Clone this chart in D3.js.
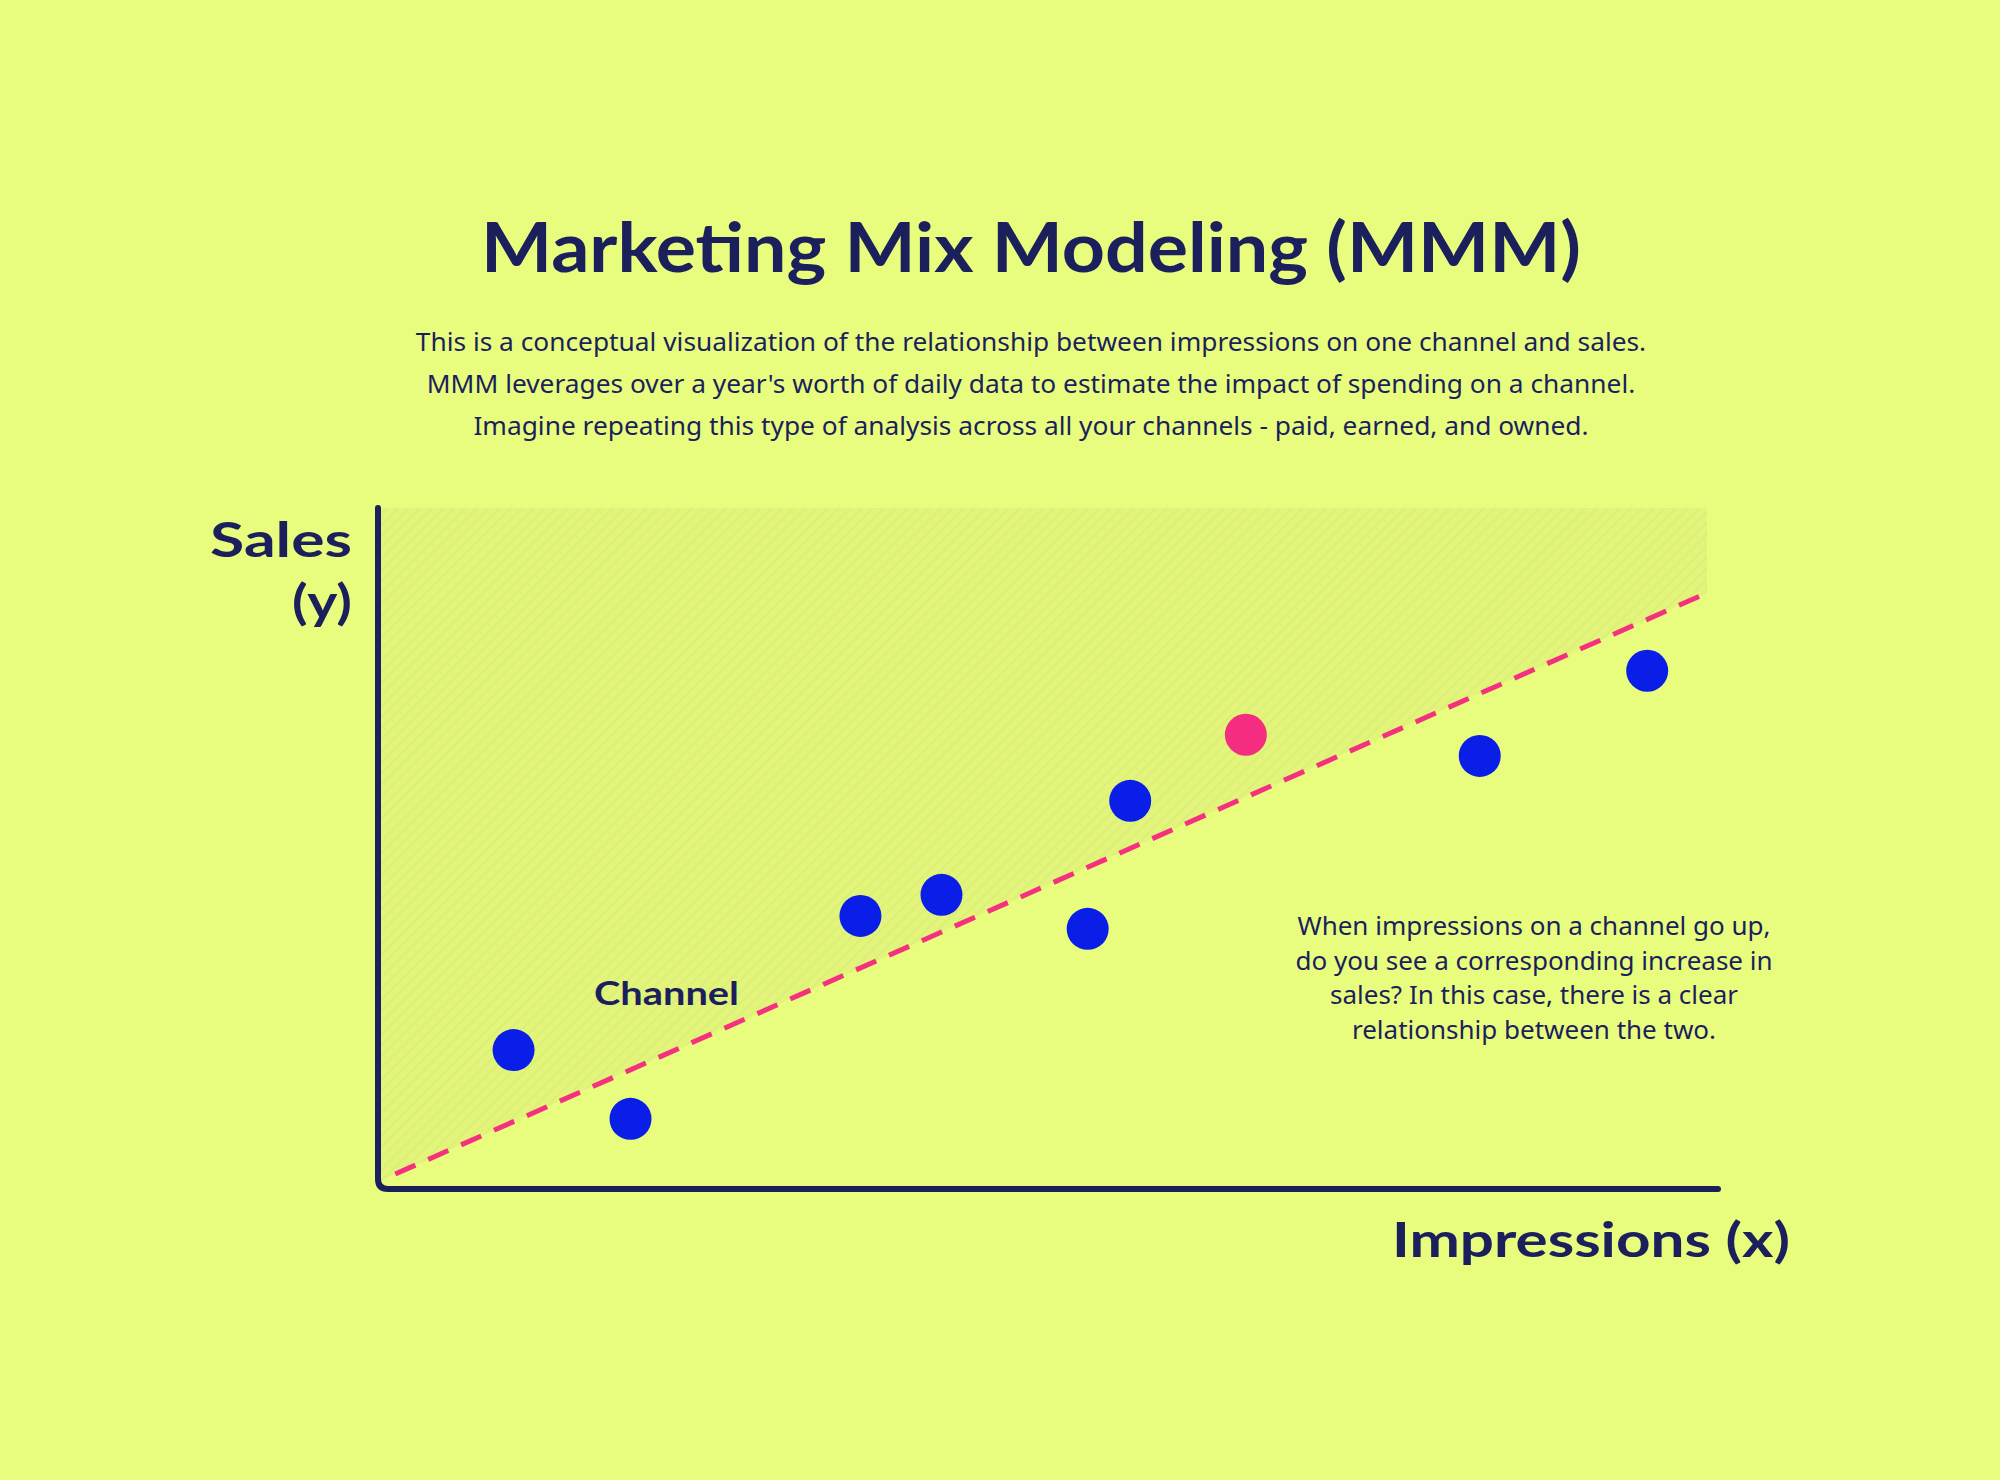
<!DOCTYPE html>
<html><head><meta charset="utf-8">
<script src="https://cdn.jsdelivr.net/npm/d3@7"></script>
<style>body{margin:0;background:#e8fc7e}</style>
</head><body>
<script>
// data
const impressions = [10.2, 19.0, 36.3, 42.4, 53.4, 56.6, 65.3, 82.9, 95.5];
const sales       = [20.4, 10.3, 40.1, 43.2, 38.2, 57.0, 66.7, 63.6, 76.1];
const highlighted = [false, false, false, false, false, false, true, false, false];
const trendX = [1.3, 99.5];
const trendY = [2.2, 87.1];
const subtitle = [
  "This is a conceptual visualization of the relationship between impressions on one channel and sales.",
  "MMM leverages over a year's worth of daily data to estimate the impact of spending on a channel.",
  "Imagine repeating this type of analysis across all your channels - paid, earned, and owned."
];
const note = [
  "When impressions on a channel go up,",
  "do you see a corresponding increase in",
  "sales? In this case, there is a clear",
  "relationship between the two."
];

const navy = "#1b1f5c", bg = "#e8fc7e";
const W = 2000, H = 1480;
const svg = d3.select("body").append("svg").attr("width", W).attr("height", H);
svg.append("rect").attr("width", W).attr("height", H).attr("fill", bg);

const x = d3.scaleLinear().domain([0, 100]).range([378, 1707]);
const y = d3.scaleLinear().domain([0, 100]).range([1189, 508]);

// hatch pattern
const defs = svg.append("defs");
const pat = defs.append("pattern").attr("id", "hatch").attr("patternUnits", "userSpaceOnUse")
  .attr("width", 8).attr("height", 8).attr("patternTransform", "rotate(45)");
pat.append("rect").attr("width", 8).attr("height", 8).attr("fill", "#e2f57a");
pat.append("line").attr("x1", 0).attr("y1", 0).attr("x2", 0).attr("y2", 8)
  .attr("stroke", "#d8ec78").attr("stroke-width", 2.5);

// hatched triangle above trend line
const f = t => trendY[0] + (trendY[1] - trendY[0]) * (t - trendX[0]) / (trendX[1] - trendX[0]);
svg.append("path")
  .attr("d", `M${x(0)},${y(f(0))} L${x(100)},${y(f(100))} L${x(100)},${y(100)} L${x(0)},${y(100)} Z`)
  .attr("fill", "url(#hatch)");

// wide heading text
const lab = (t, px, py, anchor, size, len) => svg.append("text").attr("x", px).attr("y", py)
  .attr("text-anchor", anchor).attr("font-size", size).attr("font-weight", 700)
  .attr("font-family", "Lato").attr("fill", navy)
  .attr("textLength", len).attr("lengthAdjust", "spacingAndGlyphs").text(t);

lab("Marketing Mix Modeling (MMM)", 1031, 272, "middle", 68, 1100);
svg.selectAll(".sub").data(subtitle).join("text")
  .attr("x", 1031).attr("y", (d, i) => 351 + i * 42).attr("text-anchor", "middle")
  .attr("font-family", "Noto Sans").attr("font-size", 26.3).attr("fill", navy).text(d => d);

// axes
svg.append("path")
  .attr("d", `M${x(0)},${y(100)} L${x(0)},${y(0) - 10} Q${x(0)},${y(0)} ${x(0) + 10},${y(0)} L1718,${y(0)}`)
  .attr("fill", "none").attr("stroke", navy).attr("stroke-width", 6).attr("stroke-linecap", "round");

// trend line
svg.append("line")
  .attr("x1", x(trendX[0])).attr("y1", y(trendY[0])).attr("x2", x(trendX[1])).attr("y2", y(trendY[1]))
  .attr("stroke", "#f5307f").attr("stroke-width", 5).attr("stroke-dasharray", "22,14");

// points
svg.selectAll(".pt").data(impressions).join("circle")
  .attr("cx", d => x(d)).attr("cy", (d, i) => y(sales[i])).attr("r", 21)
  .attr("fill", (d, i) => highlighted[i] ? "#f52d80" : "#0a1ee8");

lab("Sales", 352, 557, "end", 48, 142);
lab("(y)", 352, 619, "end", 48, 60);
lab("Impressions (x)", 1790, 1257, "end", 48, 398);
lab("Channel", 594, 1005, "start", 33, 145);
svg.selectAll(".note").data(note).join("text")
  .attr("x", 1534).attr("y", (d, i) => 935 + i * 34.5).attr("text-anchor", "middle")
  .attr("font-family", "Noto Sans").attr("font-size", 26).attr("fill", navy).text(d => d);
</script>
</body></html>
